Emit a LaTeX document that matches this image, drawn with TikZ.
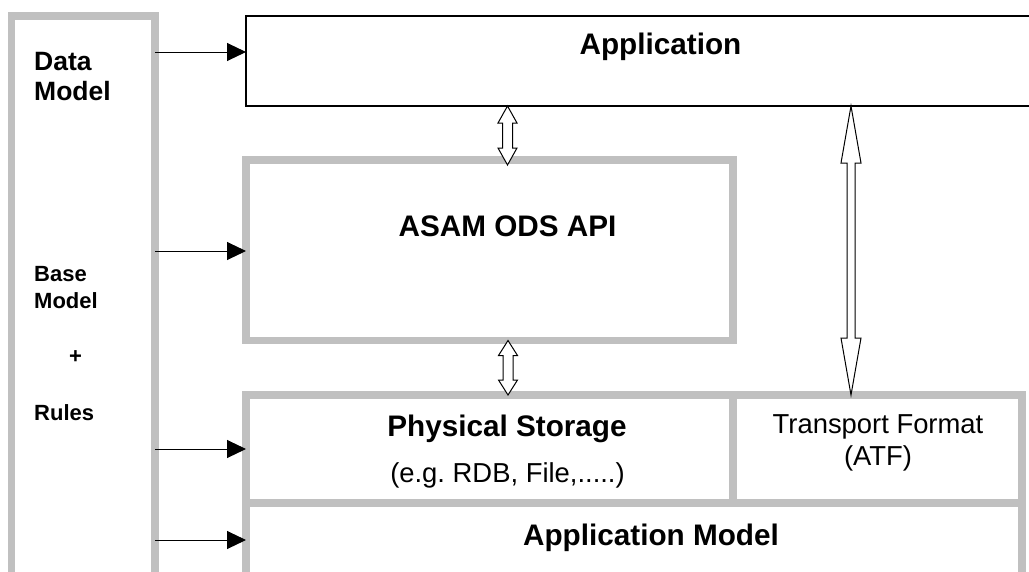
\documentclass[tikz,border=0pt]{standalone}
\usepackage{fontspec}
\setmainfont{Liberation Sans}
\frenchspacing
\usetikzlibrary{arrows.meta,calc}
\definecolor{boxgray}{RGB}{192,192,192}
\tikzset{
  graybox/.style={draw=boxgray, line width=7.5pt, rectangle, inner sep=0pt, outer sep=0pt},
  blackbox/.style={draw=black, line width=1.2pt, rectangle, inner sep=0pt, outer sep=0pt},
  feed/.style={draw=black, line width=1pt, -{Triangle[length=19pt,width=18pt]}},
  hollowarrow/.style={draw=black, fill=white, line width=1pt, line join=miter},
  bigbold/.style={font=\fontsize{29.7}{34}\selectfont\bfseries, inner sep=0pt},
  midbold/.style={font=\fontsize{26.5}{30}\selectfont\bfseries, inner sep=0pt, align=left},
  smallbold/.style={font=\fontsize{22}{26.6}\selectfont\bfseries, inner sep=0pt, align=left},
  plain/.style={font=\fontsize{27.4}{33}\selectfont, inner sep=0pt},
}
% #1 top tip, #2 bottom tip, #3 head length, #4 head width, #5 shaft width
\newcommand\hollowdouble[5]{%
  \draw[hollowarrow] let \p1=(#1), \p2=(#2) in
    (\x1,\y1)
    -- ({\x1+0.5*#4pt},{\y1-#3pt})
    -- ({\x1+0.5*#5pt},{\y1-#3pt})
    -- ({\x1+0.5*#5pt},{\y2+#3pt})
    -- ({\x1+0.5*#4pt},{\y2+#3pt})
    -- (\x1,\y2)
    -- ({\x1-0.5*#4pt},{\y2+#3pt})
    -- ({\x1-0.5*#5pt},{\y2+#3pt})
    -- ({\x1-0.5*#5pt},{\y1-#3pt})
    -- ({\x1-0.5*#4pt},{\y1-#3pt})
    -- cycle;}
\begin{document}
\begin{tikzpicture}[x=1pt,y=-1pt]
\useasboundingbox (0,0) rectangle (1029,571);
\clip (0,0) rectangle (1029,571);
\fill[white] (0,0) rectangle (1029,571);

% boxes
\node[graybox, minimum width=143.5pt, minimum height=604pt] (left) at (83.25,318) {};
\node[blackbox, minimum width=794pt, minimum height=90pt] (app) at (643,61) {};
\node[graybox, minimum width=487pt, minimum height=180.5pt] (api) at (489.5,250.25) {};
\node[graybox, minimum width=487pt, minimum height=108pt] (ps) at (489.5,449) {};
\node[graybox, minimum width=289pt, minimum height=108pt] (tf) at (877.5,449) {};
\node[graybox, minimum width=776pt, minimum height=117pt] (am) at (634,561.5) {};

% texts
\node[bigbold, anchor=base] (apptxt) at (660.5,54.3) {Application};
\node[bigbold, anchor=base] (apitxt) at (507.5,236.7) {ASAM ODS API};
\node[bigbold, anchor=base] (pstxt) at (507,436.7) {Physical Storage};
\node[plain, anchor=base] (pssub) at (507.5,482.7) {(e.g. RDB, File,.....)};
\node[plain, anchor=base] (tftxt) at (878,433) {Transport Format};
\node[plain, anchor=base] (tfsub) at (878,465) {(ATF)};
\node[bigbold, anchor=base] (amtxt) at (651,545) {Application Model};
\node[midbold, anchor=base west] (dm) at (34,100) {Data\\Model};
\node[smallbold, anchor=base west] (bm) at (34,308.3) {Base\\Model};
\node[smallbold] (plus) at (75.5,357) {+};
\node[smallbold, anchor=base west] (rules) at (34,420) {Rules};

% feed arrows
\draw[feed] (left.east |- 0,52) -- (app.west |- 0,52);
\draw[feed] (left.east |- 0,251) -- (api.west |- 0,251);
\draw[feed] (left.east |- 0,449) -- (ps.west |- 0,449);
\draw[feed] (left.east |- 0,540) -- (am.west |- 0,540);

% hollow double arrows
\coordinate (a1t) at (app.south -| 507.5,0);
\coordinate (a1b) at ($(api.north -| 507.5,0)+(0,5)$);
\hollowdouble{a1t}{a1b}{17}{19}{10}
\coordinate (a2t) at (api.south -| 508,0);
\coordinate (a2b) at (ps.north -| 508,0);
\hollowdouble{a2t}{a2b}{15}{19}{10}
\coordinate (a3t) at (app.south -| 851,0);
\coordinate (a3b) at (tf.north -| 851,0);
\hollowdouble{a3t}{a3b}{57}{20}{8}
\end{tikzpicture}
\end{document}
